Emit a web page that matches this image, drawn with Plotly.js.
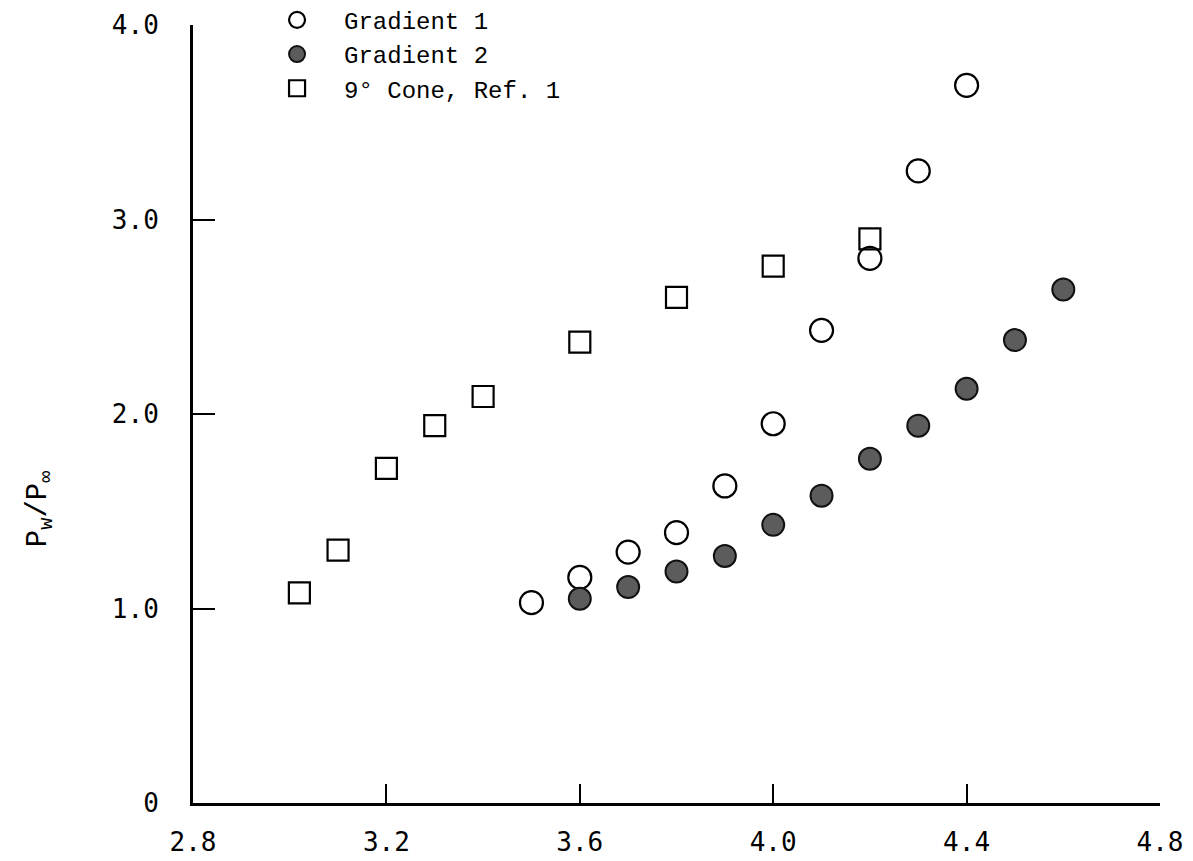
<!DOCTYPE html>
<html>
<head>
<meta charset="utf-8">
<script src="https://cdn.plot.ly/plotly-3.0.1.min.js"></script>
<style>
  html, body { margin: 0; padding: 0; background: #ffffff; }
  #chart { width: 1193px; height: 861px; }
</style>
</head>
<body>
<div id="chart"></div>
<script>
// ---- data ----
const grad1X = [3.5, 3.6, 3.7, 3.8, 3.9, 4.0, 4.1, 4.2, 4.3, 4.4];
const grad1Y = [1.03, 1.16, 1.29, 1.39, 1.63, 1.95, 2.43, 2.80, 3.25, 3.69];

const grad2X = [3.6, 3.7, 3.8, 3.9, 4.0, 4.1, 4.2, 4.3, 4.4, 4.5, 4.6];
const grad2Y = [1.05, 1.11, 1.19, 1.27, 1.43, 1.58, 1.77, 1.94, 2.13, 2.38, 2.64];

const coneX = [3.02, 3.1, 3.2, 3.3, 3.4, 3.6, 3.8, 4.0, 4.2];
const coneY = [1.08, 1.30, 1.72, 1.94, 2.09, 2.37, 2.60, 2.76, 2.90];

const xTickVals = [2.8, 3.2, 3.6, 4.0, 4.4, 4.8];
const xTickText = ["2.8", "3.2", "3.6", "4.0", "4.4", "4.8"];
const yTickVals = [0, 1, 2, 3, 4];
const yTickText = ["0", "1.0", "2.0", "3.0", "4.0"];

const seriesNames = ["Gradient 1", "Gradient 2", "9\u00B0 Cone, Ref. 1"];
const yTitle = "P<sub>w</sub>/P<sub>\u221E</sub>";

// ---- traces ----
const traces = [
  {
    x: grad1X, y: grad1Y, name: seriesNames[0], type: "scatter", mode: "markers",
    marker: { symbol: "circle-open", size: 23, color: "#000000", line: { width: 2.2, color: "#000000" } }
  },
  {
    x: grad2X, y: grad2Y, name: seriesNames[1], type: "scatter", mode: "markers",
    marker: { symbol: "circle", size: 22, color: "#5c5c5c", line: { width: 2, color: "#111111" } }
  },
  {
    x: coneX, y: coneY, name: seriesNames[2], type: "scatter", mode: "markers",
    marker: { symbol: "square-open", size: 21, color: "#000000", line: { width: 2.2, color: "#000000" } }
  }
];

const tickFont = { family: "DejaVu Sans Mono, monospace", size: 26, color: "#000000" };

const layout = {
  width: 1193,
  height: 861,
  paper_bgcolor: "#ffffff",
  plot_bgcolor: "#ffffff",
  margin: { l: 193, r: 33, t: 25, b: 58, pad: 0, autoexpand: false },
  showlegend: true,
  legend: {
    x: 0.059, y: 1.035, xanchor: "left", yanchor: "top",
    font: { family: "Liberation Mono, Courier New, monospace", size: 24, color: "#000000" },
    bgcolor: "rgba(0,0,0,0)",
    itemwidth: 84,
    tracegroupgap: 0
  },
  xaxis: {
    range: [2.8, 4.8],
    showgrid: false, zeroline: false,
    showline: true, linecolor: "#000000", linewidth: 3,
    ticks: "inside", ticklen: 19, tickwidth: 2, tickcolor: "#000000",
    tickmode: "array", tickvals: xTickVals, ticktext: xTickText,
    tickfont: tickFont,
    ticklabelstandoff: 14
  },
  yaxis: {
    range: [0, 4],
    showgrid: false, zeroline: false,
    showline: true, linecolor: "#000000", linewidth: 3,
    ticks: "inside", ticklen: 22, tickwidth: 2, tickcolor: "#000000",
    tickmode: "array", tickvals: yTickVals, ticktext: yTickText,
    tickfont: tickFont,
    ticklabelstandoff: 26
  },
  annotations: [
    {
      text: yTitle,
      xref: "paper", yref: "paper",
      x: -0.158, y: 0.378,
      xanchor: "center", yanchor: "middle",
      textangle: -90,
      showarrow: false,
      font: { family: "Liberation Mono, Courier New, monospace", size: 29, color: "#000000" }
    }
  ]
};

Plotly.newPlot("chart", traces, layout, { displayModeBar: false, staticPlot: true });
</script>
</body>
</html>
